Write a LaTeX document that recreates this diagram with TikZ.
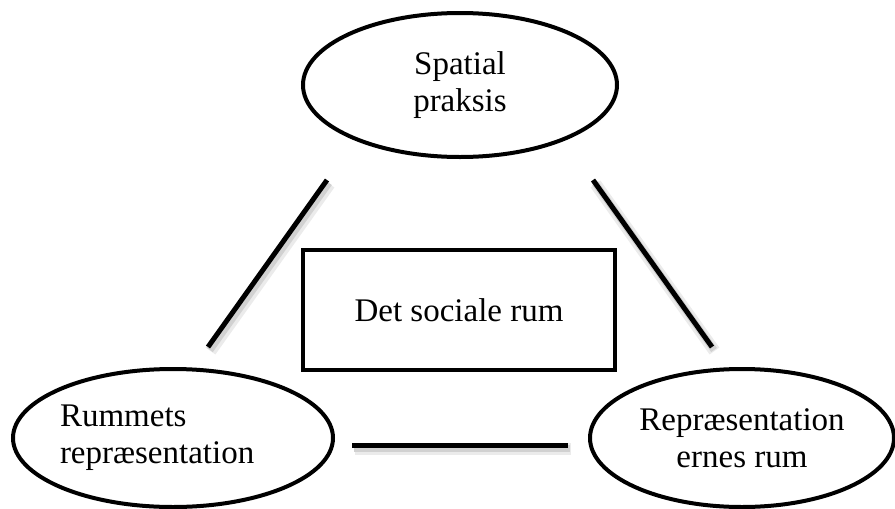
\documentclass[tikz,border=0pt]{standalone}
\usepackage{fontspec}
\setmainfont{Liberation Serif}
\usetikzlibrary{shapes.geometric}

\begin{document}
\begin{tikzpicture}[x=1pt,y=-1pt]

\tikzset{place/.style={ellipse, draw, line width=4pt, inner sep=0pt, font=\fontsize{33}{37}\selectfont}}
\tikzset{room/.style={rectangle, draw, line width=4pt, inner sep=0pt, font=\fontsize{33}{37}\selectfont}}
\tikzset{link/.style={line width=5pt,
  preaction={draw=black!8, line width=12pt, transform canvas={shift={(2.5pt,-4pt)}}},
  preaction={draw=black!18, line width=7pt, transform canvas={shift={(2pt,-3pt)}}}}}

\useasboundingbox (0,0) rectangle (895,509);

% the three moments
\node[place, align=center, minimum width=314pt, minimum height=144pt] (praksis) at (460,85) {Spatial\\praksis};
\node[place, align=left, text width=226pt, minimum width=320pt, minimum height=138pt] (rummets) at (173,438) {Rummets\\repræsentation};
\node[place, align=center, minimum width=304pt, minimum height=138pt] (ernes) at (742,438) {Repræsentation\\ernes rum};

% the social space
\node[room, minimum width=312pt, minimum height=120pt] (social) at (459,310) {Det sociale rum};

% free ends of the links
\coordinate (pl) at (327,180);
\coordinate (rl) at (208,347);
\coordinate (pr) at (593,180);
\coordinate (er) at (712,347);
\coordinate (rb) at (352,445);
\coordinate (eb) at (568,445);

\draw[link] (pl) -- (rl);
\draw[link] (pr) -- (er);
\draw[link] (rb) -- (eb);

\end{tikzpicture}
\end{document}
